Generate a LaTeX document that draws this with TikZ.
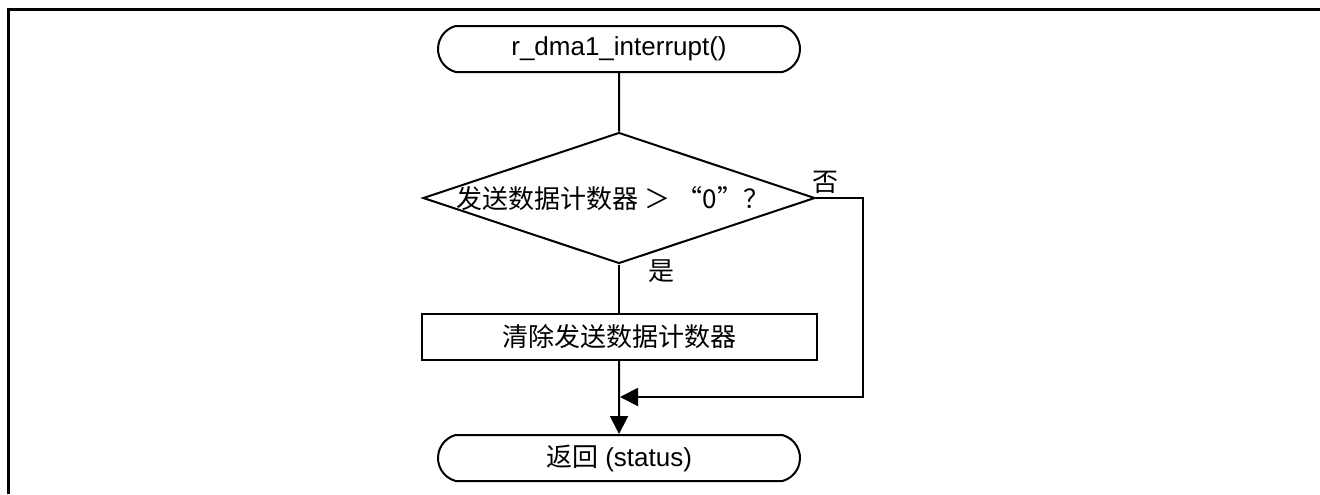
\documentclass[tikz,border=0pt]{standalone}
\usepackage{fontspec}
\setmainfont{Liberation Sans}
\newfontfamily\cjk{Noto Sans CJK SC}
\usetikzlibrary{shapes.misc,shapes.geometric,arrows.meta}

\tikzset{
  terminal/.style={draw, line width=1pt, rounded rectangle, rounded rectangle arc length=150,
    minimum width=181pt, minimum height=23pt, inner sep=0pt},
  decision/.style={draw, line width=1pt, diamond, minimum width=196pt, minimum height=65.5pt, inner sep=0pt},
  process/.style={draw, line width=1pt, rectangle, minimum width=197.5pt, minimum height=23pt, inner sep=0pt},
  flow/.style={line width=1pt},
  flowarrow/.style={line width=1pt, -{Triangle[length=9pt,width=9pt]}},
  branchlabel/.style={inner sep=0pt}
}

\begin{document}
\begin{tikzpicture}[x=0.5pt, y=-0.5pt, font=\fontsize{13pt}{15pt}\selectfont]

      \useasboundingbox (0,0) rectangle (1320,494);
      % frame
      \draw[line width=1.5pt] (8,494) -- (8,9) -- (1320,9);

      \node[terminal] (start) at (619,49) {r\_dma1\_interrupt()};
      \node[decision] (check) at (619,198) {};
      \node[inner sep=0pt] (checktext) at (613,199) {\cjk 发送数据计数器 ＞ “0”？};
      \node[branchlabel] (no) at (825,182) {\cjk 否};
      \node[branchlabel] (yes) at (661,271) {\cjk 是};
      \node[process] (clear) at (619,337) {\cjk 清除发送数据计数器};
      \node[terminal] (return) at (619,458) {{\cjk 返回} (status)};

      \coordinate (turn) at (863,397);
      \coordinate (merge) at (620,397);

      \draw[flow] (start) -- (check);
      \draw[flow] (check) -- (clear);
      \draw[flowarrow] (clear) -- (return);
      \draw[flowarrow] (check.east) -| (turn) -- (merge);

    \end{tikzpicture}
\end{document}
